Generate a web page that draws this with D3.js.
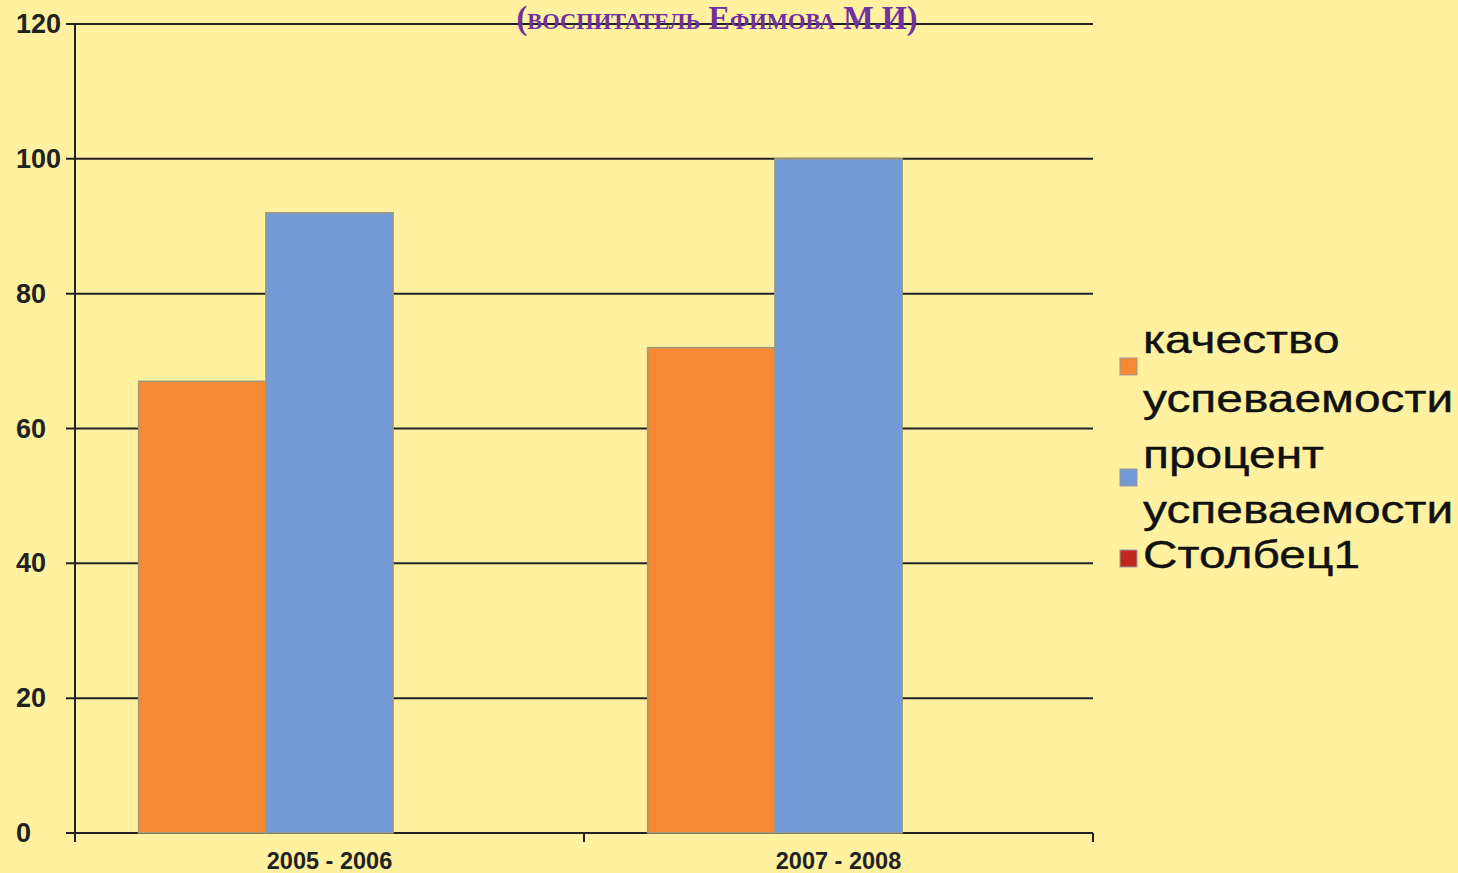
<!DOCTYPE html>
<html>
<head>
<meta charset="utf-8">
<script src="https://cdn.jsdelivr.net/npm/d3@7"></script>
<style>
  html, body { margin: 0; padding: 0; background: #FFF1A0; }
  svg { display: block; }
</style>
</head>
<body>
<div id="chart"></div>
<script>
'use strict';

// Data
var categories = ['2005 - 2006', '2007 - 2008']
var seriesNames = ['качество успеваемости', 'процент успеваемости', 'Столбец1']
var seriesColors = ['#F88934', '#7399D6', '#C0281C']
var quality = [67, 72]
var percent = [92, 100]
var column1 = [0, 0]
var yTicks = [0, 20, 40, 60, 80, 100, 120]
var legendLines = [
  ['качество', 'успеваемости'],
  ['процент', 'успеваемости'],
  ['Столбец1']
]

var seriesValues = [quality, percent, column1]

var width = 1458, height = 873
var plot = {left: 75, right: 1093, top: 24, bottom: 833}

var svg = d3.select('#chart').append('svg')
  .attr('width', width)
  .attr('height', height)

svg.append('rect')
  .attr('width', width).attr('height', height)
  .attr('fill', '#FFF1A0')

var x0 = d3.scaleBand()
  .domain(categories)
  .range([plot.left, plot.right])
  .paddingInner(0)
  .paddingOuter(0)

// third (empty) series still reserves its slot, like the spreadsheet does
var x1 = d3.scaleBand()
  .domain(d3.range(seriesNames.length))
  .range([0, x0.bandwidth()])
  .paddingInner(0)
  .paddingOuter(0.5)

var y = d3.scaleLinear()
  .domain([0, 120])
  .range([plot.bottom, plot.top])

var g = svg.append('g')

// gridlines
g.selectAll('.grid')
  .data(yTicks)
  .enter().append('line')
    .attr('x1', plot.left - 9)
    .attr('x2', plot.right)
    .attr('y1', function(d){ return y(d) })
    .attr('y2', function(d){ return y(d) })
    .attr('stroke', '#222')
    .attr('stroke-width', 2)

// bars
categories.forEach(function(cat, ci){
  seriesValues.forEach(function(vals, si){
    if (!vals[ci]) return
    g.append('rect')
      .attr('x', x0(cat) + x1(si))
      .attr('y', y(vals[ci]))
      .attr('width', x1.bandwidth())
      .attr('height', y(0) - y(vals[ci]))
      .attr('fill', seriesColors[si])
      .attr('stroke', '#9a9a80')
      .attr('stroke-width', 1.5)
  })
})

// axes - labels are left aligned in the original
var yAxis = d3.axisLeft(y).tickValues(yTicks).tickSize(9).tickPadding(4)
var yg = g.append('g')
  .attr('transform', 'translate(' + plot.left + ',0)')
  .call(yAxis)
yg.select('.domain').remove()
yg.selectAll('.tick line').remove()
yg.selectAll('.tick text')
  .attr('x', 16 - plot.left)
  .attr('text-anchor', 'start')
  .attr('fill', '#222')
  .style('font-family', 'Liberation Sans, Arial, sans-serif')
  .style('font-size', '27px')
  .style('font-weight', 'bold')

g.append('line')
  .attr('x1', plot.left).attr('x2', plot.left)
  .attr('y1', plot.top).attr('y2', plot.bottom + 9)
  .attr('stroke', '#222').attr('stroke-width', 2)

// x axis ticks at band edges
var edges = [plot.left, plot.left + x0.bandwidth(), plot.right]
g.selectAll('.xtick')
  .data(edges)
  .enter().append('line')
    .attr('x1', function(d){ return d }).attr('x2', function(d){ return d })
    .attr('y1', plot.bottom).attr('y2', plot.bottom + 9)
    .attr('stroke', '#222').attr('stroke-width', 2)

g.selectAll('.xlabel')
  .data(categories)
  .enter().append('text')
    .attr('x', function(d){ return x0(d) + x0.bandwidth() / 2 })
    .attr('y', 869)
    .attr('text-anchor', 'middle')
    .attr('fill', '#222')
    .style('font-family', 'Liberation Sans, Arial, sans-serif')
    .style('font-size', '23.5px')
    .style('font-weight', 'bold')
    .text(function(d){ return d })

// title (clipped at the top of the page)
svg.append('text')
  .attr('x', 717)
  .attr('y', 29)
  .attr('text-anchor', 'middle')
  .attr('fill', '#7030A0')
  .attr('textLength', 401)
  .attr('lengthAdjust', 'spacingAndGlyphs')
  .style('font-family', 'Liberation Serif, Times New Roman, serif')
  .style('font-size', '33px')
  .style('font-weight', 'bold')
  .style('font-variant', 'small-caps')
  .text('(воспитатель Ефимова М.И)')

// legend
var legendBaselines = [[353, 412], [468, 523], [568]]
var legendSquares = [358, 469, 550]
var lg = svg.append('g')
legendLines.forEach(function(lines, i){
  lg.append('rect')
    .attr('x', 1120)
    .attr('y', legendSquares[i])
    .attr('width', 17).attr('height', 17)
    .attr('fill', seriesColors[i])
    .attr('stroke', '#999')
    .attr('stroke-width', 1)
  lines.forEach(function(line, j){
    lg.append('text')
      .attr('transform', 'translate(1143,' + legendBaselines[i][j] + ') scale(1.26,1)')
      .attr('fill', '#111')
      .style('font-family', 'Liberation Sans, Arial, sans-serif')
      .style('font-size', '38px')
      .style('stroke', '#111')
      .style('stroke-width', 0.4)
      .text(line)
  })
})
</script>
</body>
</html>
